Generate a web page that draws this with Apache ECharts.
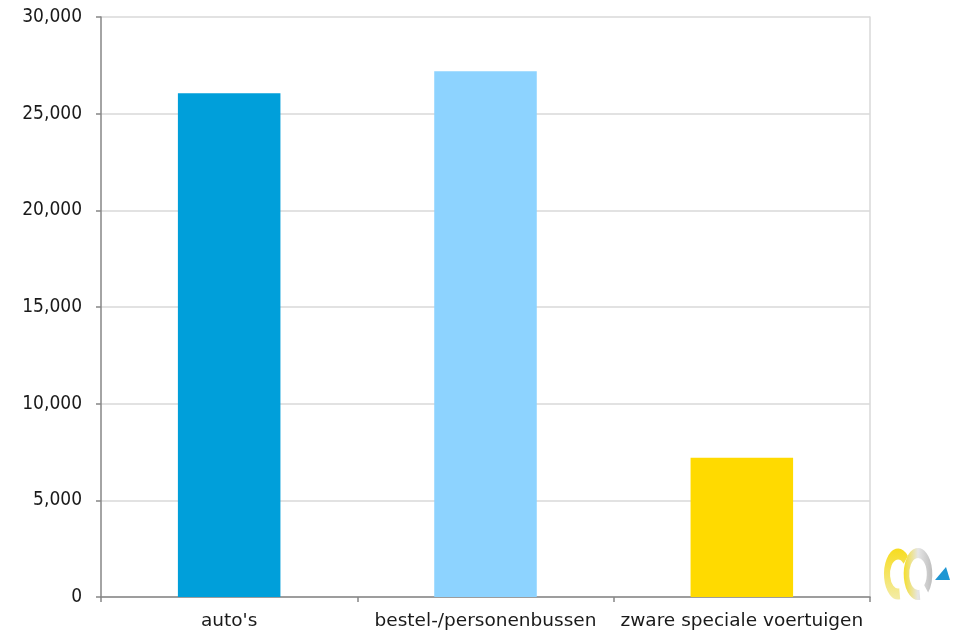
<!DOCTYPE html>
<html>
<head>
<meta charset="utf-8">
<script src="https://cdn.jsdelivr.net/npm/echarts@6/dist/echarts.min.js"></script>
<style>
  html, body { margin: 0; padding: 0; background: #ffffff; }
  #chart { width: 956px; height: 634px; }
</style>
</head>
<body>
<div id="chart"></div>
<script>
// Vehicle categories and their counts
const categories = ["auto's", "bestel-/personenbussen", "zware speciale voertuigen"];
const values = [26050, 27200, 7200];
const barColors = ["#009fda", "#8dd3ff", "#ffda00"];

// Value axis settings
const yMin = 0;
const yMax = 30000;
const yStep = 5000;

const fmt = v => v.toLocaleString('en-US');

const chart = echarts.init(document.getElementById('chart'));

chart.setOption({
  animation: false,
  backgroundColor: '#ffffff',
  grid: { left: 101, right: 86, top: 17, bottom: 37, containLabel: false },
  xAxis: {
    type: 'category',
    data: categories,
    boundaryGap: true,
    axisLine: { show: true, lineStyle: { color: '#868686', width: 1.5 } },
    axisTick: { show: true, length: 5, inside: false, alignWithLabel: false, lineStyle: { color: '#868686', width: 1.5 } },
    axisLabel: { color: '#1a1a1a', fontFamily: 'DejaVu Sans', fontSize: 18.5, margin: 15, interval: 0 },
    splitLine: { show: false }
  },
  yAxis: [{
    type: 'value',
    min: yMin,
    max: yMax,
    interval: yStep,
    axisLine: { show: true, lineStyle: { color: '#868686', width: 1.5 } },
    axisTick: { show: true, length: 5, lineStyle: { color: '#868686', width: 1.5 } },
    axisLabel: { color: '#1a1a1a', fontFamily: '"DejaVu Sans Condensed", "DejaVu Sans"', fontSize: 19, margin: 19, formatter: fmt },
    splitLine: { show: true, lineStyle: { color: '#d9d9d9', width: 1.5 } }
  }, {
    type: 'value',
    position: 'right',
    min: yMin,
    max: yMax,
    interval: yStep,
    axisLine: { show: true, lineStyle: { color: '#d9d9d9', width: 1.5 } },
    axisTick: { show: false },
    axisLabel: { show: false },
    splitLine: { show: false }
  }],
  series: [{
    type: 'bar',
    yAxisIndex: 0,
    barWidth: '40%',
    data: values.map((v, i) => ({ value: v, itemStyle: { color: barColors[i] } }))
  }],
  graphic: [
    // small emblem in the lower right corner
    {
      type: 'arc', shape: { cx: 898, cy: 574, r: 20, startAngle: Math.PI * 0.45, endAngle: Math.PI * 1.75 },
      scaleX: 0.55,
      originX: 898, originY: 574,
      style: {
        fill: 'none', lineWidth: 11,
        stroke: { type: 'linear', x: 0, y: 0, x2: 0, y2: 1, colorStops: [{ offset: 0, color: '#f7dc1e' }, { offset: 1, color: '#f3eca8' }] }
      }
    },
    {
      type: 'arc', shape: { cx: 918, cy: 574, r: 21, startAngle: Math.PI * 0.45, endAngle: Math.PI * 2.25 },
      scaleX: 0.55,
      originX: 918, originY: 574,
      style: {
        fill: 'none', lineWidth: 10,
        stroke: { type: 'linear', x: 0, y: 0, x2: 1, y2: 0, colorStops: [{ offset: 0, color: '#f5df2a' }, { offset: 0.5, color: '#e6e6e6' }, { offset: 1, color: '#bdbdbd' }] }
      }
    },
    {
      type: 'polygon',
      shape: { points: [[935, 580], [950, 580], [946, 567]] },
      style: { fill: '#1f96d3' }
    }
  ]
});
</script>
</body>
</html>
